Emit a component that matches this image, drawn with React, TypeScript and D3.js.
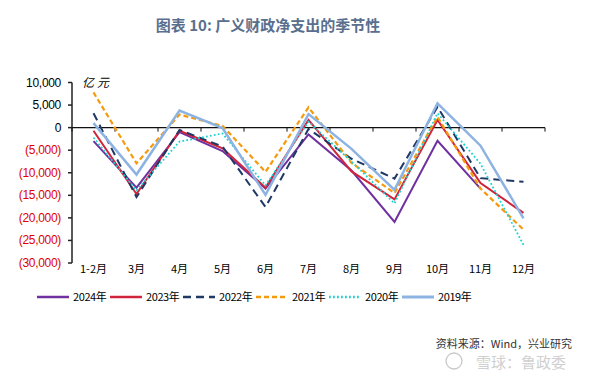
import React from "react";
import * as d3 from "d3";

const months = ["1-2月", "3月", "4月", "5月", "6月", "7月", "8月", "9月", "10月", "11月", "12月"];
const s2024 = [-3000, -13300, -1000, -5200, -13500, -1500, -9500, -20900, -2900, -13500, null];
const s2023 = [-700, -14700, -700, -4600, -13300, 1700, -9700, -15900, 1700, -12300, -18900];
const s2022 = [3200, -15400, -500, -4200, -17600, -300, -6900, -11300, 4600, -11200, -12000];
const s2021 = [7800, -7900, 2900, 400, -9800, 4500, -7800, -14500, 2400, -13500, -22600];
const s2020 = [-2200, -13900, -3100, -1300, -12800, 1300, -7500, -16800, 3200, -8000, -26000];
const s2019 = [1000, -10400, 3800, -100, -14900, 3000, -4700, -13800, 5400, -4000, -20100];
const yTicks = [10000, 5000, 0, -5000, -10000, -15000, -20000, -25000, -30000];

const seriesNames = ["2024年", "2023年", "2022年", "2021年", "2020年", "2019年"];
const seriesData = [s2024, s2023, s2022, s2021, s2020, s2019];
const styles = [
  { color: "#7030A0", width: 2, dash: null },
  { color: "#D0243C", width: 2, dash: null },
  { color: "#203864", width: 2, dash: "8,5" },
  { color: "#F59A0C", width: 2.2, dash: "5,3" },
  { color: "#1ED2D2", width: 1.8, dash: "1.8,2.2" },
  { color: "#8DB3E2", width: 2.5, dash: null },
];

const fmt = (v: number) => {
  const s = d3.format(",")(Math.abs(v));
  return v < 0 ? `(${s})` : s;
};

export default function App() {
  const x = d3.scaleBand<string>().domain(months).range([72, 545]);
  const y = d3.scaleLinear().domain([-30000, 10000]).range([263, 82.5]);
  const line = d3
    .line<number | null>()
    .defined((d) => d !== null)
    .x((_, i) => (x(months[i]) as number) + x.bandwidth() / 2)
    .y((d) => y(d as number));
  const boundaries = months.map((m) => x(m) as number).concat([545]);
  const font = "'Liberation Sans', Arial, sans-serif";
  const cjk = "'Noto Sans CJK SC', 'Noto Sans', sans-serif";

  return (
    <svg width={597} height={380} style={{ position: "absolute", left: 0, top: 0, background: "#fff" }}>
      <text x={268} y={31} textAnchor="middle" fontFamily={cjk} fontSize={15} fontWeight={700} fill="#5A6E8E">
        图表 10: 广义财政净支出的季节性
      </text>
      {/* y axis */}
      <line x1={72} x2={72} y1={y(10000)} y2={y(-30000)} stroke="#222" strokeWidth={1.5} />
      {yTicks.map((t) => (
        <g key={t}>
          <line x1={68} x2={72} y1={y(t)} y2={y(t)} stroke="#222" strokeWidth={1.5} />
          <text x={61} y={y(t) + 4} textAnchor="end" fontFamily={font} fontSize={12} letterSpacing={-0.3} fill={t < 0 ? "#E00000" : "#000"}>
            {fmt(t)}
          </text>
        </g>
      ))}
      <text x={82} y={87} fontFamily={cjk} fontSize={12} fontStyle="italic" fill="#000" letterSpacing={3}>
        亿元
      </text>
      {/* x axis */}
      <line x1={72} x2={545} y1={y(0)} y2={y(0)} stroke="#111" strokeWidth={1.2} />
      {boundaries.map((b, i) => (
        <line key={i} x1={b} x2={b} y1={y(0)} y2={y(0) + 4} stroke="#111" strokeWidth={1} />
      ))}
      {months.map((m) => (
        <text key={m} x={(x(m) as number) + x.bandwidth() / 2} y={273} textAnchor="middle" fontFamily={cjk} fontSize={11} fill="#000">
          {m}
        </text>
      ))}
      {/* series */}
      {seriesData.map((d, i) => (
        <path
          key={seriesNames[i]}
          d={line(d) as string}
          fill="none"
          stroke={styles[i].color}
          strokeWidth={styles[i].width}
          strokeDasharray={styles[i].dash || undefined}
          strokeLinejoin="miter"
        />
      ))}
      {/* legend */}
      {seriesNames.map((n, i) => {
        const lx = 37 + i * 73;
        return (
          <g key={n}>
            <line x1={lx} x2={lx + 32} y1={297} y2={297} stroke={styles[i].color} strokeWidth={styles[i].width + 0.5} strokeDasharray={styles[i].dash || undefined} />
            <text x={lx + 36} y={301} fontFamily={cjk} fontSize={11} fill="#000" letterSpacing={-0.4}>
              {n}
            </text>
          </g>
        );
      })}
      <text x={572} y={348} textAnchor="end" fontFamily={cjk} fontSize={11} fill="#333">
        资料来源：Wind，兴业研究
      </text>
      <circle cx={454} cy={361} r={8} fill="none" stroke="#c8c8c8" strokeWidth={1.3} />
      <text x={476} y={368} fontFamily={cjk} fontSize={15} fill="#d0d0d0">
        雪球：鲁政委
      </text>
    </svg>
  );
}
